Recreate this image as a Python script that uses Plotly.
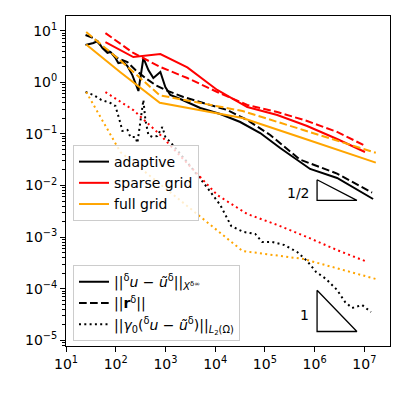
import plotly.graph_objects as go

# ---------------- data ----------------
# adaptive
adaptive_err_x = [24.7, 35.6, 43.0, 54.1, 68.1, 78.3, 98.6, 113, 143, 172, 216, 286, 360, 454, 571,
                  790, 995, 1253, 1991, 5020, 12650, 31900, 80500, 2.03e5, 8.12e5, 2.83e6, 1.50e7]
adaptive_err = [5.28, 5.78, 6.32, 4.62, 3.70, 3.87, 2.96, 2.36, 2.47, 2.07, 1.38, 0.678, 2.96, 1.73, 1.21,
                1.58, 0.811, 0.567, 0.474, 0.318, 0.243, 0.170, 0.104, 0.0533, 0.0209, 0.0140, 5.47e-3]

adaptive_res_x = [24.7, 35.6, 49.4, 78.3, 108, 172, 249, 395, 627, 995, 1449, 2296, 5768, 17500, 44200,
                  1.28e5, 5.05e5, 2.83e6, 1.43e7]
adaptive_res = [8.26, 7.22, 5.28, 3.70, 2.96, 2.47, 1.73, 1.21, 0.887, 0.710, 0.621, 0.519, 0.397, 0.290,
                0.186, 0.0953, 0.0318, 0.0170, 7.29e-3]

adaptive_trace_x = [24.7, 35.6, 51.6, 78.3, 98.6, 113, 124, 136, 172, 197, 249, 273, 360, 395, 454, 546,
                    687, 866, 995, 1253, 2512, 6320, 12650, 21000, 36600, 63800, 88300, 1.40e5, 2.44e5,
                    4.46e5, 7.06e5, 1.07e6, 1.70e6, 2.83e6, 4.10e6, 5.66e6, 9.0e6, 1.36e7]
adaptive_trace = [0.649, 0.567, 0.454, 0.397, 0.347, 0.232, 0.163, 0.114, 0.119, 0.0871, 0.0871, 0.0666,
                  0.454, 0.186, 0.0953, 0.0871, 0.0910, 0.136, 0.0871, 0.0697, 0.0312, 0.0102, 4.19e-3,
                  1.64e-3, 1.26e-3, 1.15e-3, 8.03e-4, 8.03e-4, 7.03e-4, 5.14e-4, 3.44e-4, 2.11e-4,
                  1.54e-4, 9.44e-5, 5.52e-5, 4.23e-5, 4.83e-5, 3.53e-5]

# sparse grid
sparse_x = [62.1, 226, 790, 2754, 11000, 44200, 1.77e5, 7.06e5, 2.83e6, 1.03e7]
sparse_err = [6.0, 3.09, 3.53, 1.94, 0.710, 0.332, 0.232, 0.142, 0.0796, 0.0446]
sparse_res = [9.0, 3.70, 1.98, 1.21, 0.649, 0.363, 0.266, 0.178, 0.109, 0.059]
sparse_trace = [0.646, 0.290, 0.0953, 0.0273, 6.54e-3, 2.80e-3, 1.72e-3, 1.0e-3, 5.6e-4, 3.44e-4]

# full grid
full_x = [25.5, 124, 770, 35500, 5.9e5, 1.7e7]
full_err = [5.4, 1.57, 0.40, 0.203, 0.0822, 0.0277]
full_res = [9.4, 2.64, 0.56, 0.278, 0.119, 0.043]
full_trace = [0.648, 0.0446, 0.0108, 5.38e-4, 3.77e-4, 1.54e-4]

# slope triangles
tri_x = [1.12e6, 7.08e6]
tri_half_y = [1.29e-2, 5.13e-3]
tri_one_y = [9.33e-5, 1.48e-5]

# ticks
x_tickvals = [1e1, 1e2, 1e3, 1e4, 1e5, 1e6, 1e7]
x_ticktext = ["10<sup>1</sup>", "10<sup>2</sup>", "10<sup>3</sup>", "10<sup>4</sup>",
              "10<sup>5</sup>", "10<sup>6</sup>", "10<sup>7</sup>"]
y_tickvals = [1e-5, 1e-4, 1e-3, 1e-2, 1e-1, 1e0, 1e1]
y_ticktext = ["10<sup>\u22125</sup>", "10<sup>\u22124</sup>", "10<sup>\u22123</sup>",
              "10<sup>\u22122</sup>", "10<sup>\u22121</sup>", "10<sup>0</sup>", "10<sup>1</sup>"]

# ---------------- styles ----------------
FONT = "DejaVu Sans"
FS = 14
LW = 2
DASH = "7.7px,3.3px"
DOT = "2px,3.3px"
colors = {"adaptive": "black", "sparse grid": "red", "full grid": "orange"}

fig = go.Figure()

series = [
    ("adaptive", adaptive_err_x, adaptive_err, adaptive_res_x, adaptive_res, adaptive_trace_x, adaptive_trace),
    ("sparse grid", sparse_x, sparse_err, sparse_x, sparse_res, sparse_x, sparse_trace),
    ("full grid", full_x, full_err, full_x, full_res, full_x, full_trace),
]
for name, xe, ye, xr, yr, xt, yt in series:
    c = colors[name]
    fig.add_trace(go.Scatter(x=xe, y=ye, mode="lines", line=dict(color=c, width=LW),
                             showlegend=False, hoverinfo="skip"))
    fig.add_trace(go.Scatter(x=xr, y=yr, mode="lines", line=dict(color=c, width=LW, dash=DASH),
                             showlegend=False, hoverinfo="skip"))
    fig.add_trace(go.Scatter(x=xt, y=yt, mode="lines", line=dict(color=c, width=LW, dash=DOT),
                             showlegend=False, hoverinfo="skip"))

# slope triangles
for ys in (tri_half_y, tri_one_y):
    fig.add_trace(go.Scatter(x=[tri_x[0], tri_x[0], tri_x[1], tri_x[0]],
                             y=[ys[0], ys[1], ys[1], ys[0]], mode="lines",
                             line=dict(color="black", width=1.3), showlegend=False, hoverinfo="skip"))

# legend 1 entries
for name in ["adaptive", "sparse grid", "full grid"]:
    fig.add_trace(go.Scatter(x=[None], y=[None], mode="lines", name=name,
                             line=dict(color=colors[name], width=LW), legend="legend"))

# legend 2 entries
lab_err = "||<sup>\u03b4</sup><i>u</i> \u2212 <i>\u0169</i><sup>\u03b4</sup>||<sub><i>X</i><sup>\u03b4\u221e</sup></sub>"
lab_res = "||<b>r</b><sup>\u03b4</sup>||"
lab_tr = "||<i>\u03b3</i><sub>0</sub>(<sup>\u03b4</sup><i>u</i> \u2212 <i>\u0169</i><sup>\u03b4</sup>)||<sub><i>L</i><sub>2</sub>(\u03a9)</sub>"
for lab, d in [(lab_err, None), (lab_res, DASH), (lab_tr, DOT)]:
    ln = dict(color="black", width=LW)
    if d:
        ln["dash"] = d
    fig.add_trace(go.Scatter(x=[None], y=[None], mode="lines", name=lab, line=ln, legend="legend2"))

fig.add_annotation(x=5.95, y=-2.145, text="1/2", showarrow=False, xanchor="right", yanchor="middle",
                   font=dict(family=FONT, size=FS, color="black"))
fig.add_annotation(x=5.93, y=-4.51, text="1", showarrow=False, xanchor="right", yanchor="middle",
                   font=dict(family=FONT, size=FS, color="black"))

minor_y = [m * 10 ** k for k in range(-6, 2) for m in range(2, 10)]

axis_common = dict(type="log", showgrid=False, zeroline=False, showline=True, linecolor="black",
                   linewidth=1.1, mirror=True, ticks="outside", ticklen=4.9, tickwidth=1.1,
                   tickcolor="black", tickfont=dict(family=FONT, size=FS, color="black"),
                   tickmode="array")

fig.update_xaxes(**axis_common, range=[1.0, 7.516], tickvals=x_tickvals, ticktext=x_ticktext)
fig.update_yaxes(**axis_common, range=[-5.111, 1.285], tickvals=y_tickvals, ticktext=y_ticktext,
                 minor=dict(tickmode="array", tickvals=minor_y, ticks="outside", ticklen=2.8,
                            tickwidth=0.8, tickcolor="black", showgrid=False))

legend_common = dict(bgcolor="rgba(255,255,255,0.8)", bordercolor="#cccccc", borderwidth=1,
                     font=dict(family=FONT, size=FS, color="black"), xanchor="left", yanchor="top",
                     tracegroupgap=0)
# the page body has an 8px default margin, so the figure is 8px smaller and shifted
fig.update_layout(
    width=399, height=388,
    margin=dict(l=58, r=17, t=8, b=50),
    paper_bgcolor="white", plot_bgcolor="white",
    font=dict(family=FONT, size=FS, color="black"),
    legend=dict(**legend_common, x=0.0216, y=0.609),
    legend2=dict(**legend_common, x=0.0216, y=0.245),
)

fig.write_html("out.html")
